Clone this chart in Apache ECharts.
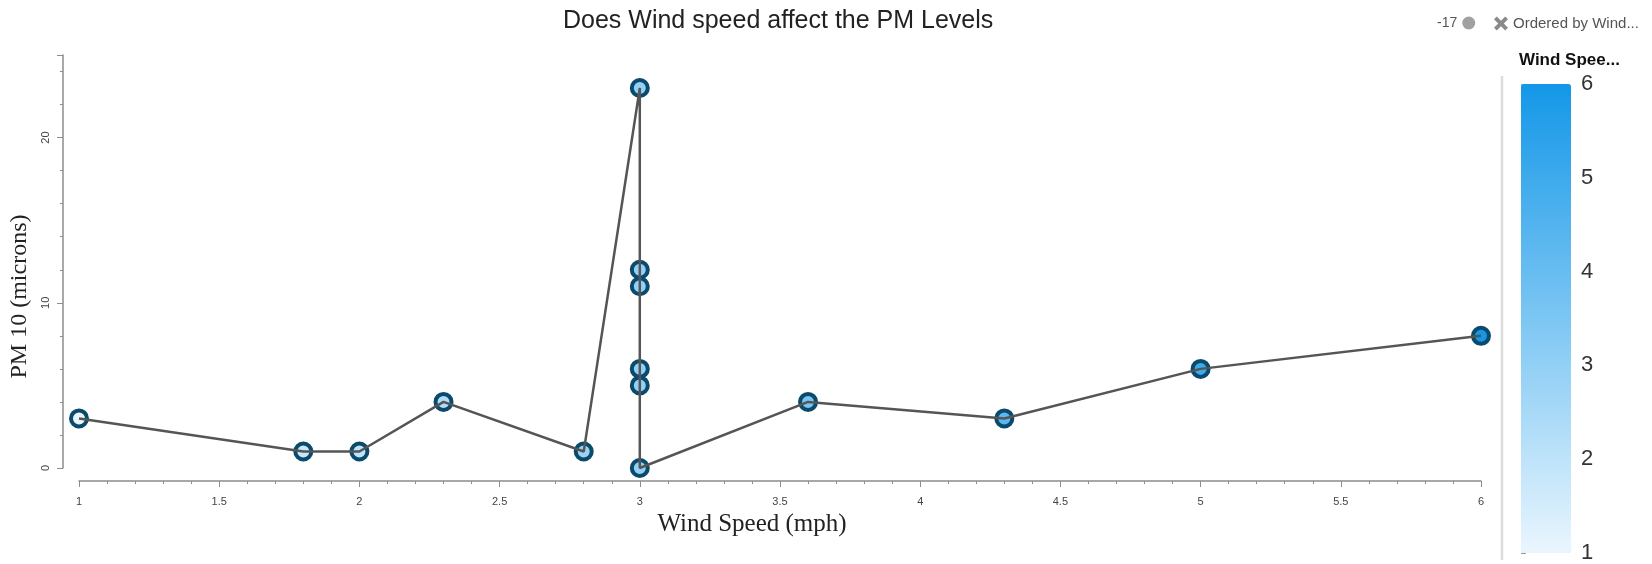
<!DOCTYPE html>
<html>
<head>
<meta charset="utf-8">
<script src="https://cdn.jsdelivr.net/npm/echarts@6/dist/echarts.min.js"></script>
<style>html,body{margin:0;padding:0;background:#fff}#chart{width:1652px;height:564px}</style>
</head>
<body>
<div id="chart"></div>
<script>
// ---- data ----
const windSpeed = [1, 1.8, 2, 2.3, 2.8, 3, 3, 3, 3, 3, 3, 3.6, 4.3, 5, 6];
const pm10      = [3, 1,   1, 4,   1,   23, 12, 11, 6, 5, 0, 4,  3,  6, 8];
const colorScaleTicks = [1, 2, 3, 4, 5, 6];
const titleText = 'Does Wind speed affect the PM Levels';
const xName = 'Wind Speed (mph)';
const yName = 'PM 10 (microns)';
const legendCount = '-17';
const legendSeries = 'Ordered by Wind...';
const scaleTitle = 'Wind Spee...';

const points = windSpeed.map((w, i) => [w, pm10[i]]);

const chart = echarts.init(document.getElementById('chart'), null, {renderer: 'canvas'});
const axisGray = '#8c8c8c';
chart.setOption({
  backgroundColor: '#fff',
  animation: false,
  title: [
    {text: titleText, left: 558, top: 4,
     textStyle: {fontFamily: 'Liberation Sans', fontSize: 25, fontWeight: 'normal', color: '#222'}},
    {text: scaleTitle, left: 1514, top: 47,
     textStyle: {fontFamily: 'Liberation Sans', fontSize: 17, fontWeight: 'bold', color: '#111'}}
  ],
  legend: [
    {data: [{name: legendCount, icon: 'circle', itemStyle: {color: '#8a8a8a'}}],
     left: 1432, top: 11, align: 'right', itemWidth: 13, itemHeight: 13, itemGap: 5,
     textStyle: {fontFamily: 'Liberation Sans', fontSize: 14, color: '#555'}},
    {data: [{name: legendSeries,
             icon: 'path://M2,0 L5,3 L8,0 L10,2 L7,5 L10,8 L8,10 L5,7 L2,10 L0,8 L3,5 L0,2 Z',
             itemStyle: {color: '#8a8a8a'}}],
     left: 1489, top: 11, itemWidth: 14, itemHeight: 14,
     textStyle: {fontFamily: 'Liberation Sans', fontSize: 15, color: '#555'}}
  ],
  grid: [
    {left: 79, right: 171, top: 55, bottom: 96},
    {left: 1521, width: 50, top: 84, height: 469}
  ],
  xAxis: [
    {type: 'value', gridIndex: 0, min: 1, max: 6, interval: 0.5, offset: 13,
     name: xName, nameLocation: 'middle', nameGap: 29,
     nameTextStyle: {fontFamily: 'Liberation Serif', fontSize: 25, color: '#222', padding: [0, 56, 0, 0]},
     axisLine: {show: true, onZero: false, lineStyle: {color: axisGray, width: 1.5}},
     axisTick: {show: true, length: 6, lineStyle: {color: axisGray}},
     minorTick: {show: true, splitNumber: 5, length: 3, lineStyle: {color: axisGray}},
     axisLabel: {margin: 15, fontFamily: 'Liberation Sans', fontSize: 11, color: '#444'},
     splitLine: {show: false}},
    {type: 'value', gridIndex: 1, show: false, min: 0, max: 1}
  ],
  yAxis: [
    {type: 'value', gridIndex: 0, min: 0, max: 25, interval: 10, offset: 16,
     name: yName, nameLocation: 'middle', nameGap: 29,
     nameTextStyle: {fontFamily: 'Liberation Serif', fontSize: 24, color: '#222', padding: [0, 70, 0, 0]},
     axisLine: {show: true, onZero: false, lineStyle: {color: axisGray, width: 1.5}},
     axisTick: {show: true, length: 6, lineStyle: {color: axisGray}},
     minorTick: {show: true, splitNumber: 5, length: 3, lineStyle: {color: axisGray}},
     axisLabel: {rotate: 90, margin: 12, showMaxLabel: false, fontFamily: 'Liberation Sans', fontSize: 11, color: '#444'},
     splitLine: {show: false}},
    {type: 'value', gridIndex: 1, position: 'right', min: colorScaleTicks[0],
     max: colorScaleTicks[colorScaleTicks.length - 1], interval: 1,
     axisLine: {show: false},
     axisTick: {show: true, length: 5, lineStyle: {color: '#999'}},
     axisLabel: {margin: 10, fontFamily: 'Liberation Sans', fontSize: 22, color: '#333'},
     splitLine: {show: false}}
  ],
  visualMap: {
    type: 'continuous', min: 1, max: 6, dimension: 0, seriesIndex: 1,
    left: 1521, top: 84, itemWidth: 50, itemHeight: 469, padding: 0,
    calculable: false, text: ['', ''], showLabel: false,
    inRange: {color: ['#eaf6fe', '#7cc6f3', '#1497e8']}
  },
  graphic: [
    {type: 'line', shape: {x1: 1502, y1: 76, x2: 1502, y2: 560},
     style: {stroke: '#dcdcdc', lineWidth: 2.5}, silent: true}
  ],
  series: [
    {name: legendSeries, type: 'line', xAxisIndex: 0, yAxisIndex: 0, data: points,
     symbol: 'none', showSymbol: false, z: 4,
     lineStyle: {color: '#555', width: 2.5}, itemStyle: {color: '#555'}},
    {name: 'points', type: 'scatter', xAxisIndex: 0, yAxisIndex: 0, data: points,
     symbolSize: 16, z: 3,
     itemStyle: {borderColor: '#0c4a6c', borderWidth: 4, opacity: 1}},
    {name: legendCount, type: 'scatter', xAxisIndex: 0, yAxisIndex: 0, data: [],
     itemStyle: {color: '#8a8a8a'}}
  ]
});
</script>
</body>
</html>
